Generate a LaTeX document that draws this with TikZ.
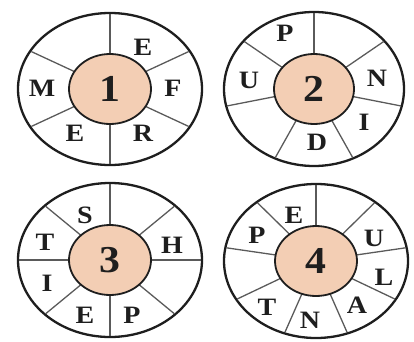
\documentclass[tikz,border=0pt]{standalone}
\usepackage{fontspec}
\setmainfont{Liberation Serif}
\definecolor{peach}{RGB}{243,206,180}
\definecolor{ink}{RGB}{30,30,30}
\definecolor{divider}{RGB}{90,90,90}
\begin{document}
\begin{tikzpicture}[x=1pt,y=1pt,
  rim/.style={draw=ink, line width=2.3pt},
  hub/.style={draw=ink, line width=1.8pt, fill=peach},
  spoke/.style={draw=divider, line width=1.3pt},
  letter/.style={font=\bfseries\fontsize{25}{25}\selectfont, text=ink, inner sep=0pt, xscale=1.12, transform shape},
  digit/.style={font=\bfseries\fontsize{38}{38}\selectfont, text=ink, inner sep=0pt, xscale=1.1, transform shape}]
\useasboundingbox (0,0) rectangle (414,341);

% ---------- circle 1 ----------
\begin{scope}[shift={(110,252)}]
  \draw[rim] (0,0) ellipse [x radius=92, y radius=76];
  \foreach \a in {30,90,...,330}
    \draw[spoke] (\a:40 and 34) -- (\a:91 and 75);
  \filldraw[hub] (0,0) ellipse [x radius=41, y radius=35];
  \node[digit] (d1) at (0,0) {1};
  \node[letter] (a1) at (33,42) {E};
  \node[letter] (a2) at (63,1) {F};
  \node[letter] (a3) at (33,-44) {R};
  \node[letter] (a4) at (-35,-44) {E};
  \node[letter] (a5) at (-68,1) {M};
\end{scope}

% ---------- circle 2 ----------
\begin{scope}[shift={(314,252)}]
  \draw[rim] (0,0) ellipse [x radius=90, y radius=77];
  \foreach \k [evaluate=\k as \a using 90+\k*360/7] in {0,...,6}
    \draw[spoke] (\a:40 and 34) -- (\a:89 and 76);
  \filldraw[hub] (0,0) ellipse [x radius=40, y radius=35];
  \node[digit] (d2) at (0,0) {2};
  \node[letter] (b1) at (-29,56) {P};
  \node[letter] (b2) at (-65,9) {U};
  \node[letter] (b3) at (3,-53) {D};
  \node[letter] (b4) at (50,-33) {I};
  \node[letter] (b5) at (63,11) {N};
\end{scope}

% ---------- circle 3 ----------
\begin{scope}[shift={(110,81)}]
  \draw[rim] (0,0) ellipse [x radius=92, y radius=77];
  \foreach \a in {0,45,...,315}
    \draw[spoke] (\a:40 and 34) -- (\a:91 and 76);
  \filldraw[hub] (0,0) ellipse [x radius=41, y radius=35];
  \node[digit] (d3) at (0,0) {3};
  \node[letter] (c1) at (-25,45) {S};
  \node[letter] (c2) at (-65,18) {T};
  \node[letter] (c3) at (-63,-23) {I};
  \node[letter] (c4) at (-25,-55) {E};
  \node[letter] (c5) at (22,-55) {P};
  \node[letter] (c6) at (62,15) {H};
\end{scope}

% ---------- circle 4 ----------
\begin{scope}[shift={(316,80)}]
  \draw[rim] (0,0) ellipse [x radius=92, y radius=77];
  \foreach \a in {90,130,...,410}
    \draw[spoke] (\a:40 and 34) -- (\a:91 and 76);
  \filldraw[hub] (0,0) ellipse [x radius=41, y radius=35];
  \node[digit] (d4) at (0,0) {4};
  \node[letter] (e1) at (-22,46) {E};
  \node[letter] (e2) at (-59,26) {P};
  \node[letter] (e3) at (-49,-46) {T};
  \node[letter] (e4) at (-6,-59) {N};
  \node[letter] (e5) at (41,-44) {A};
  \node[letter] (e6) at (68,-16) {L};
  \node[letter] (e7) at (58,23) {U};
\end{scope}
\end{tikzpicture}
\end{document}
